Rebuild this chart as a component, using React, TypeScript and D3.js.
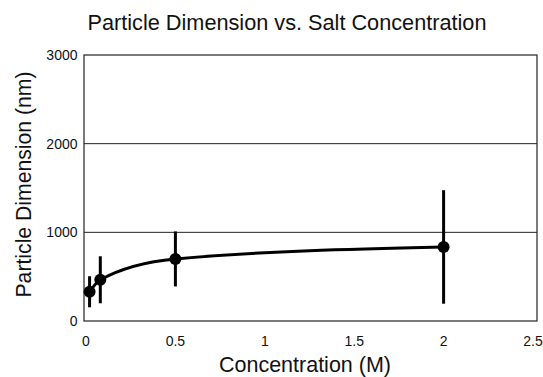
import React from "react";
import * as d3 from "d3";

const concentrations = [0.02, 0.08, 0.5, 2.0];
const dimensions = [330, 465, 700, 835];
const errors = [175, 265, 310, 640];
const xTicks = [0, 0.5, 1, 1.5, 2, 2.5];
const yTicks = [0, 1000, 2000, 3000];

const W = 543;
const H = 377;
const font = "'Liberation Sans', Arial, Helvetica, sans-serif";

export default function App() {
  const frame = { left: 84, right: 537, top: 55, bottom: 321 };
  const x = d3.scaleLinear().domain([0, 2.5]).range([86, 533]);
  const y = d3.scaleLinear().domain([0, 3000]).range([frame.bottom, frame.top]);

  const pts = concentrations.map((c, i) => ({ c, v: dimensions[i], e: errors[i] }));
  const line = d3
    .line<{ c: number; v: number }>()
    .x((d) => x(d.c))
    .y((d) => y(d.v))
    .curve(d3.curveMonotoneX);

  return (
    <svg
      width={W}
      height={H}
      style={{ position: "absolute", left: 0, top: 0, background: "#fff" }}
      fontFamily={font}
    >
      <text x={287} y={29.5} textAnchor="middle" fontSize={21.7} fill="#111">
        Particle Dimension vs. Salt Concentration
      </text>

      {/* gridlines */}
      {yTicks
        .filter((t) => t > 0 && t < 3000)
        .map((t) => (
          <line
            key={t}
            x1={frame.left}
            x2={frame.right}
            y1={y(t)}
            y2={y(t)}
            stroke="#222"
            strokeWidth={1}
          />
        ))}

      {/* frame */}
      <rect
        x={frame.left}
        y={frame.top}
        width={frame.right - frame.left}
        height={frame.bottom - frame.top}
        fill="none"
        stroke="#222"
        strokeWidth={1.2}
      />

      {/* y tick labels */}
      {yTicks.map((t) => (
        <text key={t} x={77.5} y={y(t) + 5} textAnchor="end" fontSize={14} fill="#111">
          {t}
        </text>
      ))}

      {/* x tick labels */}
      {xTicks.map((t) => (
        <text key={t} x={x(t)} y={345.5} textAnchor="middle" fontSize={14} fill="#111">
          {t}
        </text>
      ))}

      <text x={305} y={372} textAnchor="middle" fontSize={21.5} fill="#111">
        Concentration (M)
      </text>
      <text
        transform={`translate(31, 184.5) rotate(-90)`}
        textAnchor="middle"
        fontSize={21.2}
        fill="#111"
      >
        Particle Dimension (nm)
      </text>

      {/* error bars */}
      {pts.map((p, i) => (
        <line
          key={i}
          x1={x(p.c)}
          x2={x(p.c)}
          y1={y(p.v + p.e)}
          y2={y(p.v - p.e)}
          stroke="#000"
          strokeWidth={3}
        />
      ))}

      <path d={line(pts) || ""} fill="none" stroke="#000" strokeWidth={3} />

      {pts.map((p, i) => (
        <circle key={i} cx={x(p.c)} cy={y(p.v)} r={6} fill="#000" />
      ))}
    </svg>
  );
}
